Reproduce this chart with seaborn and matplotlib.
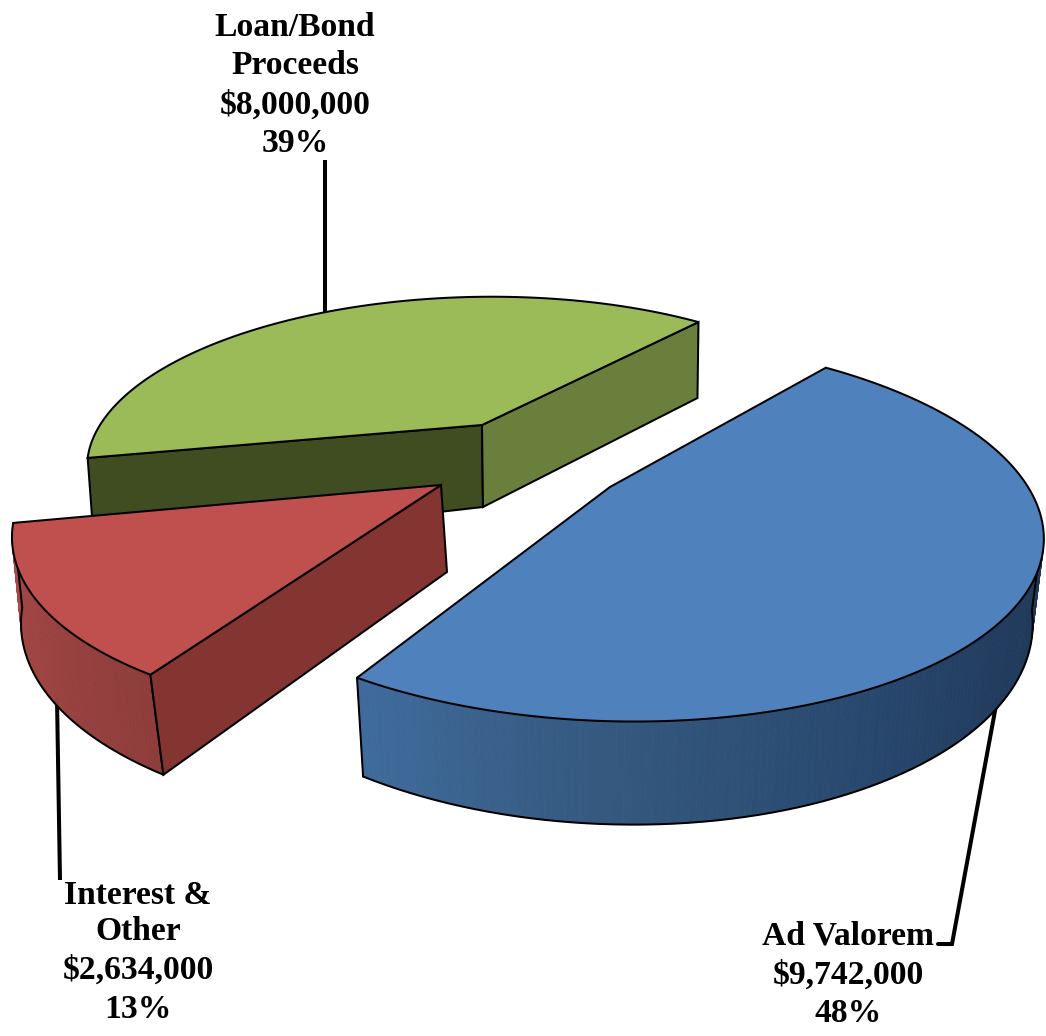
import numpy as np
import matplotlib
matplotlib.use("Agg")
import matplotlib.pyplot as plt
import seaborn as sns

categories = ["Ad Valorem", "Loan/Bond\nProceeds", "Interest &\nOther"]
values = [9742000, 8000000, 2634000]

sns.set_theme(style="white")
plt.rcParams["font.family"] = ["Liberation Serif", "DejaVu Serif"]

fig, ax = plt.subplots(figsize=(10.46, 10.36), dpi=100)
ax.set_position([0, 0, 1, 1])
ax.set_xlim(0, 1046)
ax.set_ylim(1036, 0)
ax.axis("off")

K = 0.224          # perspective strength
START = 50.2       # ground-plane angle of the first slice edge, degrees
EDGE_W = 1.45

spans = 360 * np.array(values, float) / np.sum(values)
edge_ab = START
edge_bc = START - spans[0]
edge_cd = edge_bc - spans[2]


class Geom:
    def __init__(self, apex, A, B, S, depth, lean, xv, apex_bottom):
        self.apex, self.A, self.B, self.S = apex, A, B, S
        self.depth, self.lean, self.xv, self.apex_bottom = depth, lean, xv, apex_bottom

    def top(self, phi):
        phi = np.radians(np.asarray(phi, float))
        u, v = np.cos(phi), np.sin(phi)
        w = 1 + K * v
        return self.apex[0] + (self.A * u + self.S * v) / w, self.apex[1] - self.B * v / w

    def bottom(self, phi):
        x, y = self.top(phi)
        w = 1 + K * np.sin(np.radians(np.asarray(phi, float)))
        return x + self.lean * (self.xv - x), y + self.depth / w


def outer_side(phis, g, palette, z):
    xt, yt = g.top(phis)
    xb, yb = g.bottom(phis)
    n = len(phis) - 1
    for i in range(n):
        c = palette[int(i / n * len(palette))]
        ax.fill([xt[i], xt[i + 1], xb[i + 1], xb[i]],
                [yt[i], yt[i + 1], yb[i + 1], yb[i]],
                facecolor=c, edgecolor=c, linewidth=0.6, zorder=z)
    for xs, ys in ((xb, yb), ([xt[0], xb[0]], [yt[0], yb[0]]), ([xt[-1], xb[-1]], [yt[-1], yb[-1]])):
        ax.plot(xs, ys, color="black", lw=EDGE_W, zorder=z + 0.1, solid_capstyle="round")


def inner_face(phi, g, color, z):
    xe, ye = g.top(phi)
    xb, yb = g.bottom(phi)
    ax.fill([g.apex[0], xe, xb, g.apex_bottom[0]], [g.apex[1], ye, yb, g.apex_bottom[1]],
            facecolor=color, edgecolor="black", linewidth=EDGE_W, zorder=z)


def top_face(a0, a1, g, color, z):
    ph = np.linspace(a0, a1, 200)
    x, y = g.top(ph)
    ax.fill(np.r_[g.apex[0], x], np.r_[g.apex[1], y], facecolor=color,
            edgecolor="black", linewidth=EDGE_W, zorder=z)


g_blue = Geom((610, 487), 418, 182, -19, 80, 0.025, 600, (610, 570))
g_green = Geom((482, 425), 382, 157, 12, 89, 0.013, 620, (483, 507))
g_red = Geom((441, 485), 413, 181, 20, 81, -0.029, -299, (447, 572))

# leader lines
lw = 2.9
ax.plot([325, 325], [160, 314], color="black", lw=lw, zorder=1, solid_capstyle="butt")
ax.plot([57, 60], [698, 880], color="black", lw=lw, zorder=1, solid_capstyle="butt")
ax.plot([997, 952, 938], [700, 944, 944], color="black", lw=lw, zorder=1, solid_joinstyle="miter")

# green slice
inner_face(edge_cd, g_green, "#404D20", 2)
inner_face(edge_ab, g_green, "#6A7F3B", 2)
top_face(edge_ab, edge_cd + 360, g_green, "#9BBB59", 3)

# red slice
red_pal = sns.blend_palette(["#8E3D3B", "#9C4341", "#A94A47"], 60)
outer_side(np.linspace(edge_bc, edge_cd, 80), g_red, red_pal, 4)
inner_face(edge_bc, g_red, "#843532", 5)
top_face(edge_cd, edge_bc, g_red, "#C0504D", 6)

# blue slice
blue_pal = sns.blend_palette(["#3F6B9C", "#35597F", "#2A4A70", "#213C5E", "#1F3857"], 120)
outer_side(np.linspace(edge_bc, -12, 140), g_blue, blue_pal, 7)
top_face(edge_bc, edge_ab, g_blue, "#4F81BD", 8)

# labels
style = dict(ha="center", va="center", fontsize=24.2, fontweight="bold", color="black", zorder=10)
total = sum(values)


def label(i, x, ys):
    lines = categories[i].split("\n") + [f"${values[i]:,}", f"{round(100 * values[i] / total)}%"]
    for line, y in zip(lines, ys):
        ax.text(x, y, line, **style)


label(1, 295, [28, 66, 105, 144])
label(2, 138, [895, 932, 970, 1010])
label(0, 848, [936, 975, 1014])

fig.savefig("out.png", dpi=100, facecolor="white")
